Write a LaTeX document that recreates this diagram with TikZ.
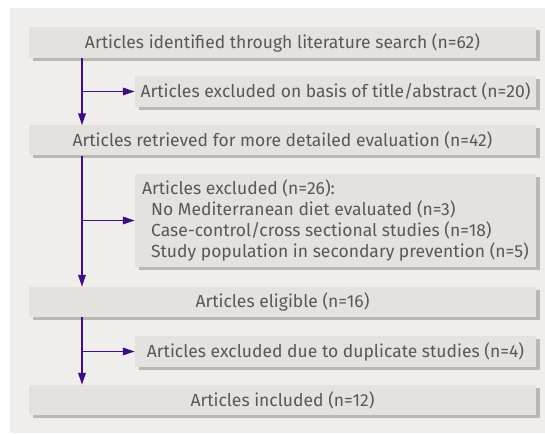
\documentclass[tikz,border=0pt]{standalone}
\usepackage{fontspec}
\setmainfont{Fira Sans}
\usetikzlibrary{arrows.meta,calc}
\definecolor{panelc}{HTML}{F0EEEC}
\definecolor{boxc}{HTML}{E5E1DE}
\definecolor{shadc}{HTML}{BDB6B2}
\definecolor{linec}{HTML}{3E0D7E}
\definecolor{txtc}{HTML}{58585A}
\begin{document}
\begin{tikzpicture}[x=1pt,y=1pt,
  box/.style={fill=boxc, inner sep=0pt, text=txtc, font=\fontsize{17.5}{21}\selectfont,
    preaction={fill=shadc, transform canvas={shift={(4pt,-3pt)}}}},
  mainbox/.style={box, minimum width=507pt, minimum height=#1},
  sidebox/.style={box, minimum width=401pt, minimum height=#1},
  arr/.style={draw=linec, line width=1.7pt, -{Triangle[length=12pt,width=7.5pt]}}]
\useasboundingbox (0,0) rectangle (545,433);
\fill[white] (0,0) rectangle (545,433);
\fill[panelc] (10,0) rectangle (545,424.5);
\coordinate (lx) at (82,0);
\node[mainbox=31pt] (b1) at (282.5,390.5) {Articles identified through literature search (n=62)};
\node[sidebox=31pt] (b2) at (335.5,341.5) {Articles excluded on basis of title/abstract (n=20)};
\node[mainbox=30pt] (b3) at (282.5,292.5) {Articles retrieved for more detailed evaluation (n=42)};
\node[sidebox=93pt, align=left] (b4) at (335.5,212.5) {Articles excluded (n=26):\\
\hspace*{9pt}No Mediterranean diet evaluated (n=3)\\
\hspace*{9pt}Case-control/cross sectional studies (n=18)\\
\hspace*{9pt}Study population in secondary prevention (n=5)};
\node[mainbox=30pt] (b5) at (282.5,131) {Articles eligible (n=16)};
\node[sidebox=31pt] (b6) at (335.5,81.5) {Articles excluded due to duplicate studies (n=4)};
\node[mainbox=30pt] (b7) at (282.5,33) {Articles included (n=12)};
\draw[arr] (b1.south -| lx) -- (b3.north -| lx);
\draw[arr] (b2.west -| lx) -- (b2.west);
\draw[arr] (b3.south -| lx) -- (b5.north -| lx);
\draw[arr] (b4.west -| lx) -- (b4.west);
\draw[arr] (b5.south -| lx) -- (b7.north -| lx);
\draw[arr] (b6.west -| lx) -- (b6.west);
\end{tikzpicture}
\end{document}
